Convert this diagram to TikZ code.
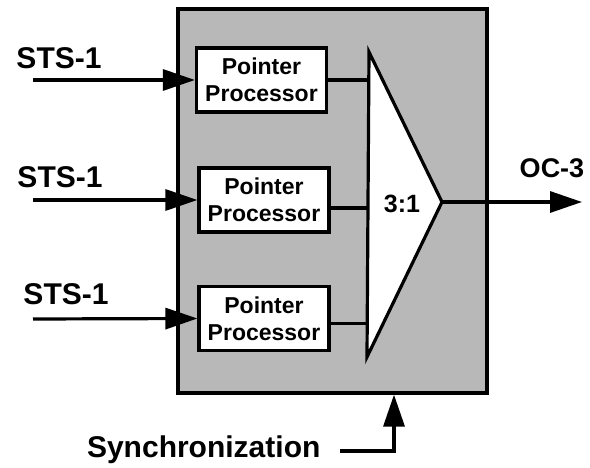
\documentclass[tikz,border=0pt]{standalone}
\usepackage{fontspec}
\setmainfont{Liberation Sans}
\usetikzlibrary{arrows.meta}

\begin{document}
\begin{tikzpicture}[x=1pt, y=-1pt, line width=3.2pt,
        procesor/.style={draw, fill=white, minimum width=130pt, minimum height=64pt,
            align=center, inner sep=0pt, font=\fontsize{23}{27}\selectfont\bfseries},
        popis/.style={inner sep=0pt, font=\fontsize{30}{36}\selectfont\bfseries},
        sipka/.style={-{Triangle[length=32pt, width=21pt]}}]
        \useasboundingbox (0,0) rectangle (590,468);

        % rámec
        \node[draw, fill=black!28, minimum width=309pt, minimum height=384pt, inner sep=0pt]
            (ramec) at (332.5,201) {};

        % ukazatelové procesory
        \node[procesor] (p1) at (261.5,80) {Pointer\\Processor};
        \node[procesor] (p2) at (264,200) {Pointer\\Processor};
        \node[procesor] (p3) at (264,318.5) {Pointer\\Processor};

        % multiplexor
        \draw[fill=white, line join=miter] (369,52) coordinate (mA)
        -- (442,202) coordinate (mT)
        -- (367,357) coordinate (mB)
        -- cycle;
        \node[popis, font=\fontsize{25}{30}\selectfont\bfseries] (pomer) at (402,204) {3:1};

        % spoje k multiplexoru
        \coordinate (v1) at (p1.east);
        \coordinate (v2) at ([yshift=-8pt]p2.east);
        \coordinate (v3) at ([yshift=-5pt]p3.east);
        \foreach \i in {1,2,3}
            \draw (v\i) -- (v\i -| mA);

        % vstupy
        \foreach \i/\y in {1/80,2/200,3/319}
            \draw[sipka] (33,\y) coordinate (in\i) -- (p\i.west);
        \node[popis] (sts1) at (59,58) {STS-1};
        \node[popis] (sts2) at (60,177) {STS-1};
        \node[popis] (sts3) at (66,294) {STS-1};

        % výstup
        \draw[sipka] (mT) -- (582,202) coordinate (vystup);
        \node[popis, font=\fontsize{27}{32}\selectfont\bfseries] (oc3) at (552,168) {OC-3};

        % synchronizace
        \node[popis, anchor=east] (synchro) at (322,450) {Synchronization};
        \coordinate (sx) at (394,0);
        \draw[sipka] (340,451) coordinate (s0) -| (ramec.south -| sx);
    \end{tikzpicture}
\end{document}
